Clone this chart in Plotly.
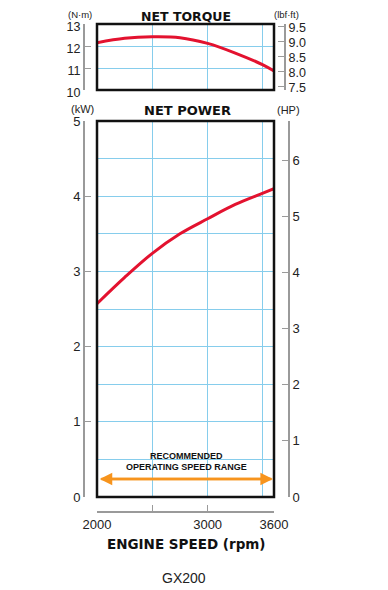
import plotly.graph_objects as go

# ---- data ----
rpm = [2000, 2250, 2500, 2750, 3000, 3250, 3500, 3600]
torque_nm = [12.15, 12.35, 12.42, 12.38, 12.12, 11.68, 11.14, 10.86]
power_kw = [2.57, 2.92, 3.24, 3.50, 3.70, 3.89, 4.04, 4.10]
recommended_range = [2000, 3600]
torque_ticks = [10, 11, 12, 13]
lbfft_ticks = [7.5, 8.0, 8.5, 9.0, 9.5]
kw_ticks = [0, 1, 2, 3, 4, 5]
hp_ticks = [0, 1, 2, 3, 4, 5, 6]
rpm_grid = [2500, 3000, 3500]
rpm_ticks = [2000, 2500, 3000, 3600]
rpm_ticktext = ["2000", "", "3000", "3600"]
NM_TO_LBFFT = 0.7376
KW_TO_HP = 1.341

# page body has an 8px default margin: figure is offset by it
OFF = 8
W, H = 388 - OFF, 590 - OFF
def px(x): return (x - OFF) / W
def py(y): return 1 - (y - OFF) / H

RED = "#e3122f"
ORANGE = "#f7941d"
GRID = "#86cdec"
AXIS = "#9a9a9a"
TXT = "#222222"
FONT = "Liberation Sans, Arial, sans-serif"
BOLD = "DejaVu Sans, Verdana, sans-serif"

fig = go.Figure()
fig.add_trace(go.Scatter(x=rpm, y=torque_nm, xaxis="x", yaxis="y", mode="lines",
                         line=dict(color=RED, width=3, shape="spline", smoothing=1),
                         hoverinfo="skip", showlegend=False))
fig.add_trace(go.Scatter(x=[2000], y=[8], xaxis="x", yaxis="y2", mode="markers",
                         marker=dict(opacity=0), hoverinfo="skip", showlegend=False))
fig.add_trace(go.Scatter(x=rpm, y=power_kw, xaxis="x2", yaxis="y3", mode="lines",
                         line=dict(color=RED, width=3, shape="spline", smoothing=1),
                         hoverinfo="skip", showlegend=False))
fig.add_trace(go.Scatter(x=[2000], y=[1], xaxis="x2", yaxis="y4", mode="markers",
                         marker=dict(opacity=0), hoverinfo="skip", showlegend=False))
fig.add_trace(go.Scatter(x=[2000], y=[1], xaxis="x3", yaxis="y3", mode="markers",
                         marker=dict(opacity=0), hoverinfo="skip", showlegend=False))

xdom = [px(97), px(274)]
tdom = [py(90), py(24)]
pdom = [py(497), py(121)]
tick_font = dict(family=FONT, size=13, color=TXT)
tick_font_t = dict(family=FONT, size=12.5, color=TXT)

fig.update_layout(
    width=W, height=H, margin=dict(l=0, r=0, t=0, b=0, autoexpand=False),
    paper_bgcolor="white", plot_bgcolor="white",
    xaxis=dict(domain=xdom, range=[2000, 3600], anchor="y", tickvals=rpm_grid,
               showticklabels=False, ticks="", showgrid=True, gridcolor=GRID,
               gridwidth=1.3, zeroline=False, showline=False, automargin=False),
    yaxis=dict(domain=tdom, range=[10, 13], anchor="free", position=px(84),
               tickvals=torque_ticks, ticks="inside", ticklen=6, tickcolor=AXIS,
               showline=True, linecolor=AXIS, linewidth=2, showgrid=True,
               gridcolor=GRID, gridwidth=1.3, zeroline=False, tickfont=tick_font_t,
               ticklabelshift=3, automargin=False),
    yaxis2=dict(range=[10 * NM_TO_LBFFT, 13 * NM_TO_LBFFT], overlaying="y",
                anchor="free", position=px(285), side="right",
                tickvals=lbfft_ticks, tickformat=".1f", ticks="inside", ticklen=6,
                tickcolor=AXIS, showline=True, linecolor=AXIS, linewidth=2,
                showgrid=False, zeroline=False, tickfont=tick_font_t,
                ticklabelshift=1, automargin=False),
    xaxis2=dict(domain=xdom, range=[2000, 3600], anchor="y3", tickvals=rpm_grid,
                showticklabels=False, ticks="", showgrid=True, gridcolor=GRID,
                gridwidth=1.3, zeroline=False, showline=False, automargin=False),
    yaxis3=dict(domain=pdom, range=[0, 5], anchor="free", position=px(84),
                tickvals=kw_ticks, ticks="inside", ticklen=6, tickcolor=AXIS,
                showline=True, linecolor=AXIS, linewidth=2, showgrid=True,
                gridcolor=GRID, gridwidth=1.3, zeroline=False, tickfont=tick_font,
                automargin=False,
                minor=dict(dtick=0.5, showgrid=True, gridcolor=GRID, gridwidth=1.3, ticks="")),
    yaxis4=dict(range=[0, 5 * KW_TO_HP], overlaying="y3", anchor="free",
                position=px(289), side="right", tickvals=hp_ticks, ticks="inside",
                ticklen=6, tickcolor=AXIS, showline=True, linecolor=AXIS, linewidth=2,
                showgrid=False, zeroline=False, tickfont=tick_font, automargin=False),
    xaxis3=dict(range=[2000, 3600], overlaying="x2", anchor="free", position=py(512),
                tickvals=rpm_ticks, ticktext=rpm_ticktext, ticks="inside", ticklen=6,
                tickcolor=AXIS, showline=True, linecolor=AXIS, linewidth=2,
                showgrid=False, zeroline=False, tickfont=tick_font, automargin=False),
)

# frames
for xr, yr in [("x domain", "y domain"), ("x2 domain", "y3 domain")]:
    fig.add_shape(type="rect", xref=xr, yref=yr, x0=0, x1=1, y0=0, y1=1,
                  line=dict(color="#111111", width=2.5), layer="above")

def label(text, x, y, size=11, family=FONT, color=TXT, yanchor="middle"):
    fig.add_annotation(text=text, xref="paper", yref="paper", x=px(x), y=py(y),
                       showarrow=False, xanchor="center", yanchor=yanchor,
                       font=dict(family=family, size=size, color=color), borderpad=0)

# top-row labels anchored to the top of the figure so they are not clipped
label("<b>NET TORQUE</b>", 186, OFF, size=12.5, family=BOLD, color="#111", yanchor="top")
label("(N·m)", 80, OFF, size=9.5, yanchor="top")
label("(lbf·ft)", 286, OFF, size=9.5, yanchor="top")
label("<b>NET POWER</b>", 187, 110, size=13, family=BOLD, color="#111")
label("(kW)", 82, 109, size=11)
label("(HP)", 288, 110, size=11)
label("<b>ENGINE SPEED (rpm)</b>", 186, 544, size=13.5, family=BOLD, color="#111")
label("GX200", 184, 578, size=14)
label("<b>RECOMMENDED</b>", 186, 456, size=9, family=FONT, color="#111")
label("<b>OPERATING SPEED RANGE</b>", 186, 467, size=9, family=FONT, color="#111")

# recommended range arrow (double-headed): two overlapping full-length arrows
lo, hi = recommended_range[0] + 25, recommended_range[1] - 10
for tip, tail in [(lo, hi), (hi, lo)]:
    fig.add_annotation(x=tip, y=0.24, ax=tail, ay=0.24, xref="x2", yref="y3",
                       axref="x2", ayref="y3", text="", showarrow=True,
                       arrowhead=2, arrowsize=1, arrowwidth=2.5, arrowcolor=ORANGE)

fig.write_html("out.html")
